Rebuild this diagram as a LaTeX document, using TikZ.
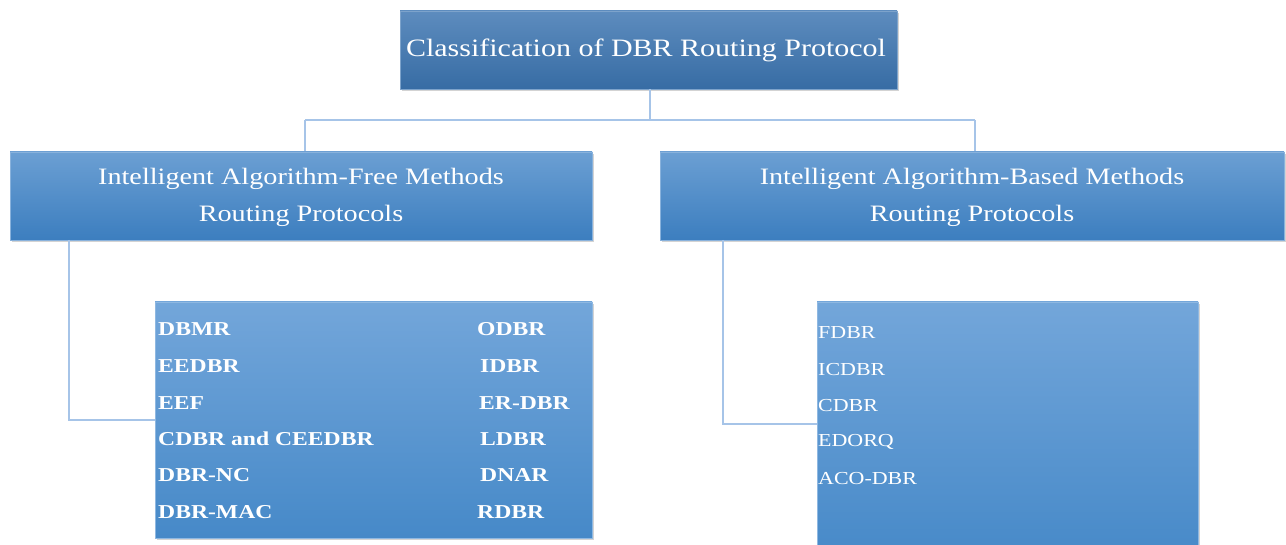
\documentclass[tikz,border=0pt]{standalone}
\usepackage{fontspec}
\setmainfont{Liberation Serif}[FakeStretch=1.2]
\usetikzlibrary{shadows}
\definecolor{linec}{HTML}{A6C4E8}
\definecolor{topA}{HTML}{5D8CBE}
\definecolor{topB}{HTML}{376CA4}
\definecolor{midA}{HTML}{6B9FD3}
\definecolor{midB}{HTML}{3C7EBF}
\definecolor{lowA}{HTML}{73A6DA}
\definecolor{lowB}{HTML}{4689C8}
\tikzset{
  px/.style={x=1pt,y=-1pt},
  topbox/.style={rectangle, inner sep=0pt, top color=topA, bottom color=topB, draw=topA!80!white, line width=0.4pt, drop shadow={opacity=0.35,shadow xshift=2pt,shadow yshift=-2pt}},
  midbox/.style={rectangle, inner sep=0pt, top color=midA, bottom color=midB, draw=midA!80!white, line width=0.4pt, drop shadow={opacity=0.35,shadow xshift=2pt,shadow yshift=-2pt}},
  lowbox/.style={rectangle, inner sep=0pt, top color=lowA, middle color=lowA!50!lowB, bottom color=lowB, draw=lowA!80!white, line width=0.4pt, drop shadow={opacity=0.35,shadow xshift=2pt,shadow yshift=-2pt}},
  conn/.style={draw=linec, line width=1.6pt},
  wtxt/.style={text=white, font=\fontsize{25}{30}\selectfont, inner sep=0pt},
  htxt/.style={text=white, font=\fontsize{23.5}{37}\selectfont, align=center, inner sep=0pt},
  ltxt/.style={text=white, font=\fontsize{19.7}{22}\bfseries\selectfont, anchor=west, inner sep=0pt},
  rtxt/.style={text=white, font=\fontsize{18.3}{22}\selectfont, anchor=west, inner sep=0pt}
}
\begin{document}
\begin{tikzpicture}[px]
\useasboundingbox (0,0) rectangle (1286,545);
\begin{scope}
\clip (0,0) rectangle (1286,545);
% connectors
\coordinate (jl) at (305,120);
\coordinate (jr) at (975,120);
\coordinate (ja) at (650,120);
\coordinate (bl) at (69,420);
\coordinate (br) at (723,424);
% boxes
\path[topbox] (400,11) rectangle (897,89);
\node[wtxt] (top) at (646,50) {Classification of DBR Routing Protocol};
\coordinate (topS) at (650,89);
\draw[conn] (topS) -- (ja) (jl) -- (jr);
\draw[conn] (jl) -- (305,152);
\draw[conn] (jr) -- (975,152);
\path[midbox] (10,152) rectangle (592,240);
\node[htxt] (lm) at (301,197) {Intelligent Algorithm-Free Methods\\Routing Protocols};
\path[midbox] (660,152) rectangle (1284,240);
\node[htxt] (rm) at (972,197) {Intelligent Algorithm-Based Methods\\Routing Protocols};
\draw[conn] (69,240) -- (bl) -- (155,420);
\draw[conn] (723,240) -- (br) -- (817,424);
\path[lowbox] (155,302) rectangle (592,538);
\path[lowbox] (817,302) rectangle (1198,560);
% left list
\node[ltxt] (a1) at (158,329) {DBMR};
\node[ltxt] (a2) at (158,366) {EEDBR};
\node[ltxt] (a3) at (158,403) {EEF};
\node[ltxt] (a4) at (158,439) {CDBR and CEEDBR};
\node[ltxt] (a5) at (158,475) {DBR-NC};
\node[ltxt] (a6) at (158,512) {DBR-MAC};
\node[ltxt] (b1) at (477,329) {ODBR};
\node[ltxt] (b2) at (480,366) {IDBR};
\node[ltxt] (b3) at (479,403) {ER-DBR};
\node[ltxt] (b4) at (480,439) {LDBR};
\node[ltxt] (b5) at (480,475) {DNAR};
\node[ltxt] (b6) at (477,512) {RDBR};
% right list
\node[rtxt] (c1) at (818,333) {FDBR};
\node[rtxt] (c2) at (818,370) {ICDBR};
\node[rtxt] (c3) at (818,406) {CDBR};
\node[rtxt] (c4) at (818,442) {EDORQ};
\node[rtxt] (c5) at (818,479) {ACO-DBR};
\end{scope}
\end{tikzpicture}
\end{document}
